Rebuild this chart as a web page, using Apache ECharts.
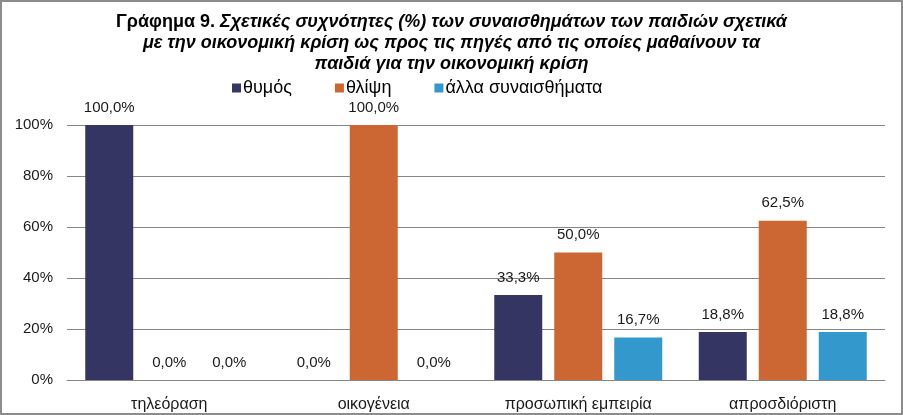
<!DOCTYPE html>
<html><head><meta charset="utf-8">
<script src="https://cdn.jsdelivr.net/npm/echarts@6/dist/echarts.min.js"></script>
<style>html,body{margin:0;padding:0;background:#fff}#c{width:903px;height:415px;box-sizing:border-box;border:2px solid #8c8c8c}</style>
</head><body><div id="c"></div>
<script>
const categories = ['τηλεόραση', 'οικογένεια', 'προσωπική εμπειρία', 'απροσδιόριστη'];
const seriesNames = ['θυμός', 'θλίψη', 'άλλα συναισθήματα'];
const thymos = [100.0, 0.0, 33.3, 18.8];
const thlipsi = [0.0, 100.0, 50.0, 62.5];
const alla = [0.0, 0.0, 16.7, 18.8];
const yTicks = [0, 20, 40, 60, 80, 100];
const colors = ['#343563', '#cc6633', '#3399cc'];

const chart = echarts.init(document.getElementById('c'), null, {renderer: 'canvas'});
const font = 'Liberation Sans, Arial, sans-serif';
const lab = {show: true, position: 'top', distance: 10, color: '#1a1a1a', fontSize: 15, fontFamily: font,
  formatter: p => p.value.toFixed(1).replace('.', ',') + '%'};
const mk = (name, data, i) => ({name, type: 'bar', data, barWidth: 48, barGap: '25%', itemStyle: {color: colors[i]}, label: lab});
chart.setOption({
  animation: false,
  title: {
    text: '{a|Γράφημα 9.} {b|Σχετικές συχνότητες (%) των συναισθημάτων των παιδιών σχετικά}\n{b|με την οικονομική κρίση ως προς τις πηγές από τις οποίες μαθαίνουν τα}\n{b|παιδιά για την οικονομική κρίση}',
    left: 'center', top: 5,
    textStyle: {
      rich: {
        a: {fontFamily: font, fontWeight: 'bold', fontSize: 18, color: '#000', lineHeight: 21},
        b: {fontFamily: font, fontWeight: 'bold', fontStyle: 'italic', fontSize: 18, color: '#000', lineHeight: 21}
      }
    }
  },
  legend: {
    data: seriesNames, left: 225, top: 72, itemWidth: 9, itemHeight: 9, itemGap: 43, icon: 'rect',
    textStyle: {fontFamily: font, fontSize: 18, color: '#000', padding: [0, 0, 0, -3]}
  },
  grid: {left: 65, right: 16, top: 123, bottom: 31},
  xAxis: {
    type: 'category', data: categories,
    axisLine: {lineStyle: {color: '#868686'}},
    axisTick: {show: false},
    axisLabel: {color: '#1a1a1a', fontSize: 16, fontFamily: font, margin: 17}
  },
  yAxis: {
    type: 'value', min: yTicks[0], max: yTicks[yTicks.length - 1], interval: 20,
    axisLine: {show: false}, axisTick: {show: false},
    splitLine: {lineStyle: {color: '#868686'}},
    axisLabel: {color: '#1a1a1a', fontSize: 15, fontFamily: font, margin: 14, formatter: v => v + '%'}
  },
  series: [mk(seriesNames[0], thymos, 0), mk(seriesNames[1], thlipsi, 1), mk(seriesNames[2], alla, 2)]
});
</script></body></html>
